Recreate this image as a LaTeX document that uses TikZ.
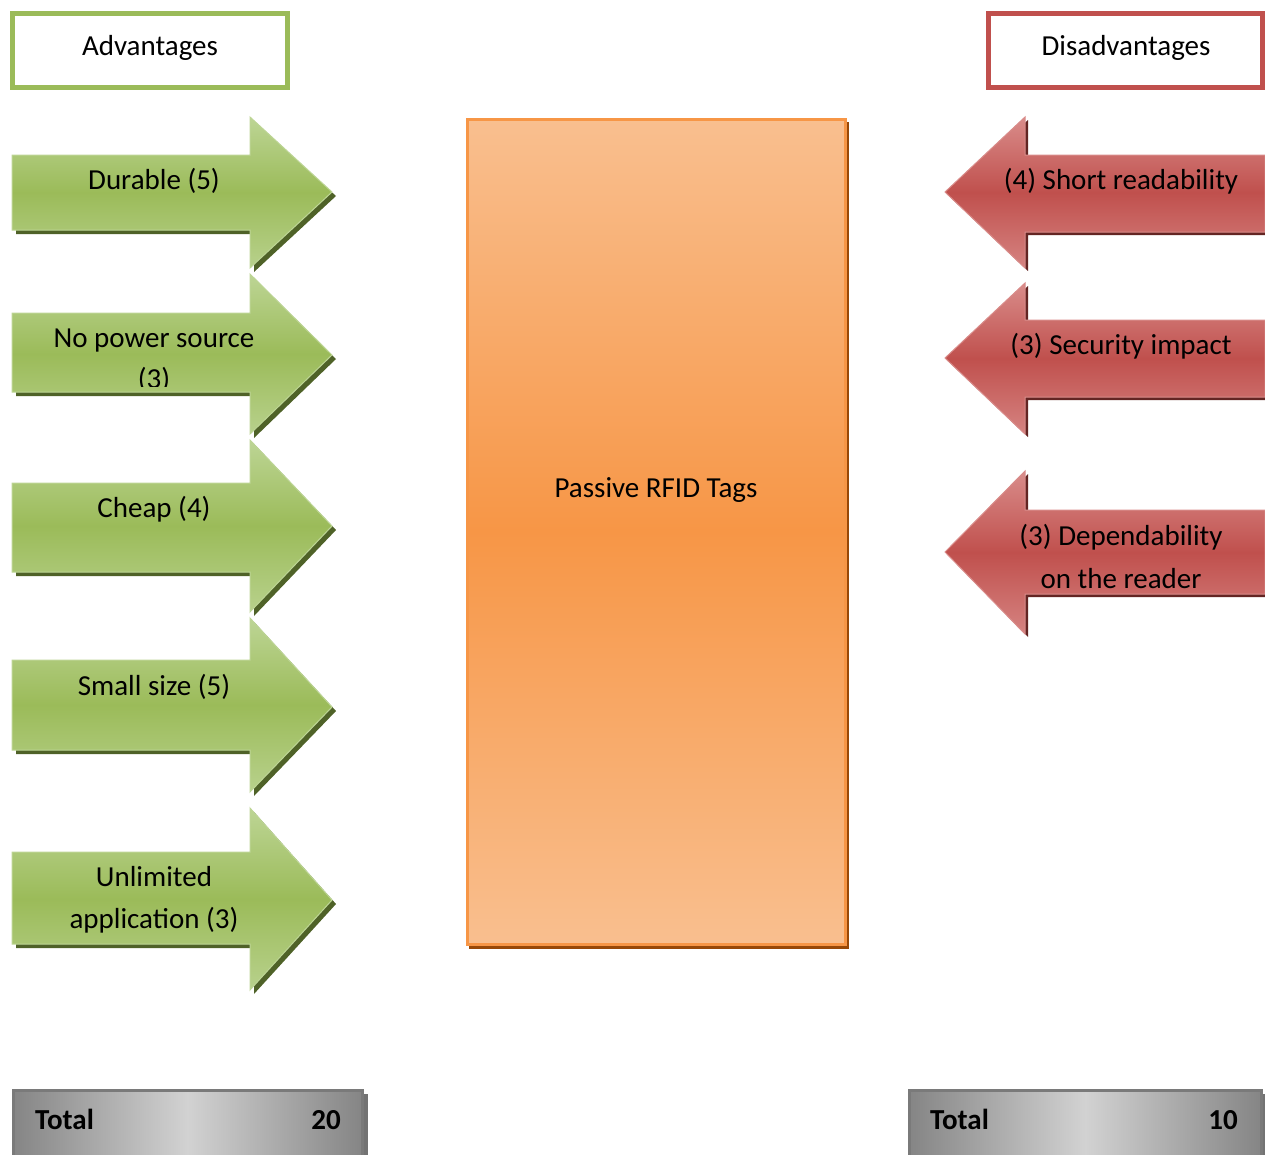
\documentclass[tikz,border=0pt]{standalone}
\usepackage{fontspec}
\setmainfont{Carlito}
\definecolor{advgreen}{HTML}{9BBB59}
\definecolor{advlight}{HTML}{BDD595}
\definecolor{advdark}{HTML}{4F6228}
\definecolor{disred}{HTML}{C0504D}
\definecolor{dislight}{HTML}{D98C8A}
\definecolor{disdark}{HTML}{632523}
\definecolor{tagorange}{HTML}{F79646}
\definecolor{taglight}{HTML}{F9BF8F}
\definecolor{tagdark}{HTML}{984807}
\definecolor{totdark}{HTML}{858585}
\definecolor{totlight}{HTML}{D2D2D2}
\definecolor{totedge}{HTML}{7A7A7A}
% right-pointing arrow: {name}{head top}{shaft top}{shaft bottom}{head bottom}{tip y}
\newcommand\advarrow[6]{%
  \path[fill=advdark,shift={(4,4)}]
    (12,#3) -- (250,#3) -- (250,#2) -- (332,#6) -- (250,#5) -- (250,#4) -- (12,#4) -- cycle;
  \path[draw=advlight,line width=1pt,top color=advlight,bottom color=advlight!85!advgreen,middle color=advgreen]
    (12,#3) -- (250,#3) -- (250,#2) -- (332,#6) -- (250,#5) -- (250,#4) -- (12,#4) -- cycle;
  \coordinate (#1) at (172,#6);}
% left-pointing arrow: {name}{head top}{shaft top}{shaft bottom}{head bottom}{tip y}
\newcommand\disarrow[6]{%
  \path[fill=disdark,shift={(3,3)}]
    (1265,#3) -- (1025,#3) -- (1025,#2) -- (945,#6) -- (1025,#5) -- (1025,#4) -- (1265,#4) -- cycle;
  \path[draw=dislight,line width=1pt,top color=dislight,bottom color=dislight!85!disred,middle color=disred]
    (1265,#3) -- (1025,#3) -- (1025,#2) -- (945,#6) -- (1025,#5) -- (1025,#4) -- (1265,#4) -- cycle;
  \coordinate (#1) at (1105,#6);}
\begin{document}
\begin{tikzpicture}[x=1pt,y=-1pt,
  lbl/.style={anchor=base,inner sep=0pt,font=\fontsize{29}{41}\selectfont},
  tot/.style={anchor=base,inner sep=0pt,font=\fontsize{29}{41}\selectfont\bfseries},
  headbox/.style={line width=5pt,fill=white},
  totbox/.style={draw=totedge,line width=3pt,left color=totdark,right color=totdark,middle color=totlight}]
\useasboundingbox (0,0) rectangle (1265,1154);

% column headings
\draw[headbox,draw=advgreen] (12.5,13) rectangle (287.5,87.5);
\node[lbl] (advhead) at (150,55) {Advantages};
\draw[headbox,draw=disred] (988,13) rectangle (1262.5,87.5);
\node[lbl] (dishead) at (1126,55) {Disadvantages};

% central box
\fill[tagdark] (469,122) rectangle (849,949);
\draw[draw=tagorange,line width=3pt,top color=taglight,bottom color=taglight,middle color=tagorange]
  (467.5,119) rectangle (845.5,944);
\node[lbl] (tags) at (656,497) {Passive RFID Tags};

% advantages
\advarrow{a1}{117}{155}{230}{268}{192}
\node[lbl] (a1t) at (154,189) {Durable (5)};
\advarrow{a2}{274}{313}{392}{434}{355}
\node[lbl] (a2t) at (154,347) {No power source};
\begin{scope}
  \clip (12,313) rectangle (250,386);
  \node[lbl] (a2u) at (154,388) {(3)};
\end{scope}
\advarrow{a3}{440}{483}{572}{612}{526}
\node[lbl] (a3t) at (154,517) {Cheap (4)};
\advarrow{a4}{618}{660}{750}{792}{707}
\node[lbl] (a4t) at (154,695) {Small size (5)};
\advarrow{a5}{808}{852}{944}{990}{900}
\node[lbl] (a5t) at (154,886) {Unlimited};
\node[lbl] (a5u) at (154,928) {application (3)};

% disadvantages
\disarrow{d1}{117}{155}{232}{268}{192}
\node[lbl] (d1t) at (1121,189) {(4) Short readability};
\disarrow{d2}{283}{320}{397}{434}{358}
\node[lbl] (d2t) at (1121,354) {(3) Security impact};
\disarrow{d3}{471}{510}{594}{634}{552}
\node[lbl] (d3t) at (1121,545) {(3) Dependability};
\begin{scope}
  \clip (1025,510) rectangle (1265,588);
  \node[lbl] (d3u) at (1121,588) {on the reader};
\end{scope}

% totals
\fill[black!55] (18,1094) rectangle (368,1170);
\path[totbox] (13.5,1090.5) rectangle (362,1170);
\node[tot,anchor=base west] (t1l) at (35,1129) {Total};
\node[tot,anchor=base east] (t1r) at (341,1129) {20};
\fill[black!55] (913,1094) rectangle (1268,1170);
\path[totbox] (909.5,1090.5) rectangle (1261,1170);
\node[tot,anchor=base west] (t2l) at (930,1129) {Total};
\node[tot,anchor=base east] (t2r) at (1238,1129) {10};
\end{tikzpicture}
\end{document}
